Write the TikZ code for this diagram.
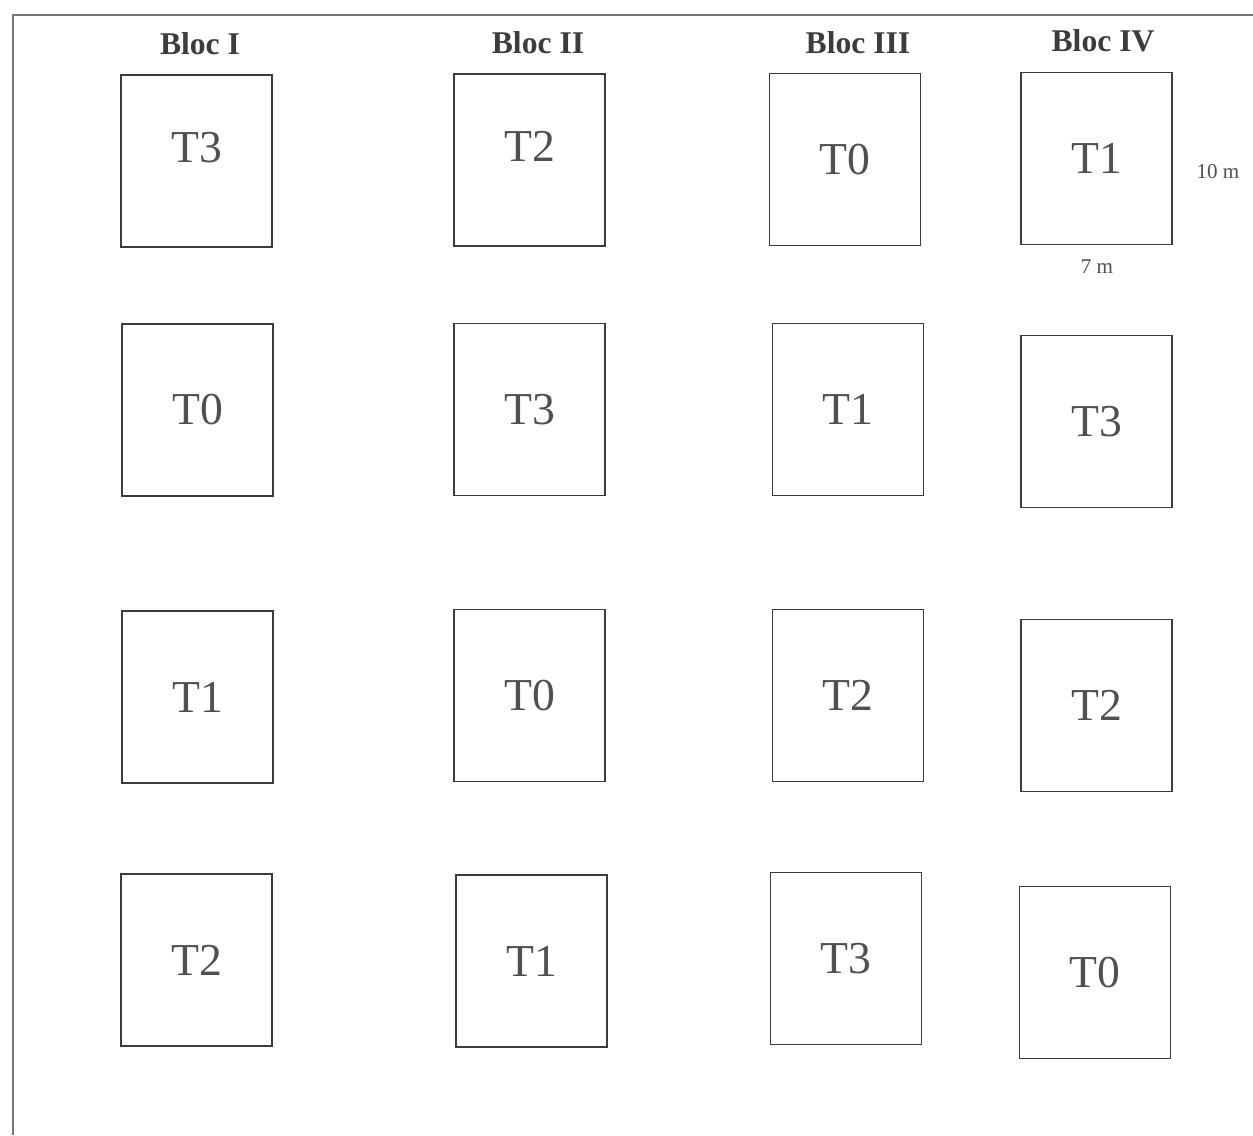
\documentclass[tikz,border=0pt]{standalone}
\usepackage{fontspec}
\setmainfont{Liberation Serif}
\usepackage{xcolor}
\usetikzlibrary{positioning}
\definecolor{plotline}{RGB}{60, 60, 60}
\definecolor{plottext}{RGB}{80, 80, 80}

\begin{document}
\begin{tikzpicture}[
		x=0.02cm, y=-0.02cm,
		plot/.style={rectangle, draw=plotline, line width=1.1pt, minimum width=3.02cm, minimum height=3.44cm, inner sep=0pt, text=plottext, font=\fontsize{26}{30}\selectfont},
		raised/.style={text depth=0.56cm},
		bloc/.style={font=\bfseries\fontsize{18}{22}\selectfont, text=plotline},
		dim/.style={font=\fontsize{12}{14}\selectfont, text=plottext, inner sep=1pt}
		]
		\useasboundingbox (0,0) rectangle (1253,1135);
		% Frame of the field
		\draw[plotline!70, line width=1.1pt] (13,1135) -- (13,15) -- (1253,15);
		
		% Block titles
		\node[bloc] (blocI) at (200,44) {Bloc I};
		\node[bloc] (blocII) at (538,43) {Bloc II};
		\node[bloc] (blocIII) at (858,43) {Bloc III};
		\node[bloc] (blocIV) at (1103,41) {Bloc IV};
		
		% Row 1
		\node[plot, raised] (a1) at (196.5,161) {T3};
		\node[plot, raised] (b1) at (529.5,160) {T2};
		\node[plot] (c1) at (845,159.5) {T0};
		\node[plot] (d1) at (1096.5,158.5) {T1};
		
		% Row 2
		\node[plot] (a2) at (197.5,410) {T0};
		\node[plot] (b2) at (529.5,409.5) {T3};
		\node[plot] (c2) at (848,409.5) {T1};
		\node[plot] (d2) at (1096.5,421.5) {T3};
		
		% Row 3
		\node[plot] (a3) at (197.5,697) {T1};
		\node[plot] (b3) at (529.5,695.5) {T0};
		\node[plot] (c3) at (848,695.5) {T2};
		\node[plot] (d3) at (1096.5,705.5) {T2};
		
		% Row 4
		\node[plot] (a4) at (196.5,960) {T2};
		\node[plot] (b4) at (531.5,961) {T1};
		\node[plot] (c4) at (846,958.5) {T3};
		\node[plot] (d4) at (1095,972.5) {T0};
		
		% Plot dimensions
		\node[dim] (width) at (1097,267) {7 m};
		\node[dim] (height) at (1218,172) {10 m};
	\end{tikzpicture}
\end{document}
